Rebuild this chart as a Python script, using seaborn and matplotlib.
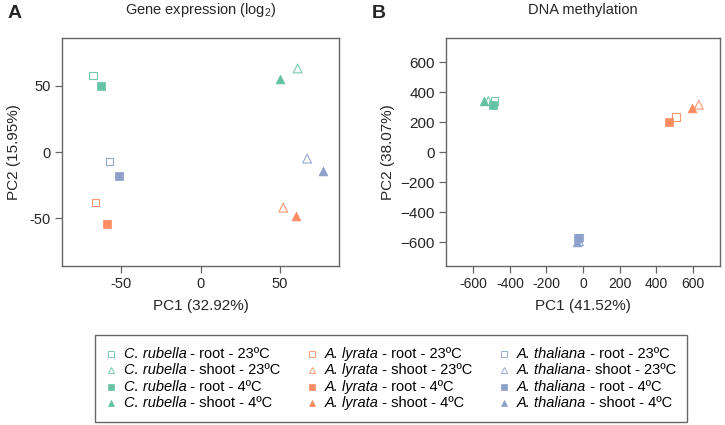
import pandas as pd
import matplotlib.pyplot as plt
import seaborn as sns
from matplotlib.lines import Line2D
from matplotlib.offsetbox import (AnchoredOffsetbox, DrawingArea, HPacker,
                                  TextArea, VPacker)

# ---------------- DATA ----------------
species = ["C. rubella", "A. lyrata", "A. thaliana"]
colors = ["#66C2A5", "#FC8D62", "#8DA0CB"]
conditions = ["root - 23ºC", "shoot - 23ºC", "root - 4ºC", "shoot - 4ºC"]

# gene expression PCA (order per species: root23, shoot23, root4, shoot4)
expr_pc1 = {
    "C. rubella": [-67.5, 61, -62.5, 50],
    "A. lyrata": [-66, 52, -59, 60],
    "A. thaliana": [-57, 67, -51, 77],
}
expr_pc2 = {
    "C. rubella": [57.5, 63, 50, 55],
    "A. lyrata": [-38, -42, -54, -48],
    "A. thaliana": [-7, -5, -18, -14],
}

# DNA methylation PCA
meth_pc1 = {
    "C. rubella": [-485, -518, -495, -540],
    "A. lyrata": [510, 634, 470, 596],
    "A. thaliana": [-20, -22, -28, -35],
}
meth_pc2 = {
    "C. rubella": [340, 340, 315, 337],
    "A. lyrata": [233, 315, 202, 293],
    "A. thaliana": [-570, -595, -575, -600],
}

expr_ticks = [-50, 0, 50]
expr_ticklabels = ["-50", "0", "50"]
meth_ticks = [-600, -400, -200, 0, 200, 400, 600]
meth_xticklabels = ["-600", "-400", "-200", "0", "200", "400", "600"]
meth_yticklabels = ["−600", "−400", "−200", "0", "200", "400", "600"]

rows = []
for sp in species:
    for i, cond in enumerate(conditions):
        rows.append({"species": sp, "cond": cond, "panel": "expr",
                     "pc1": expr_pc1[sp][i], "pc2": expr_pc2[sp][i]})
        rows.append({"species": sp, "cond": cond, "panel": "meth",
                     "pc1": meth_pc1[sp][i], "pc2": meth_pc2[sp][i]})
df = pd.DataFrame(rows)

markers = {"root - 23ºC": "s", "shoot - 23ºC": "^", "root - 4ºC": "s", "shoot - 4ºC": "^"}
is_open = {"root - 23ºC": True, "shoot - 23ºC": True, "root - 4ºC": False, "shoot - 4ºC": False}
sizes = {"s": 28, "^": 40}

sns.set_style("white")
plt.rcParams["font.family"] = ["Liberation Sans", "DejaVu Sans"]
plt.rcParams["mathtext.fontset"] = "custom"
plt.rcParams["mathtext.rm"] = "Liberation Sans"

fig = plt.figure(figsize=(7.25, 4.25), dpi=100)
ax_a = fig.add_axes([62 / 725, 1 - 266 / 425, 277 / 725, 228 / 425])
ax_b = fig.add_axes([446 / 725, 1 - 266 / 425, 274 / 725, 228 / 425])


def draw(ax, panel):
    sub = df[df["panel"] == panel]
    for sp, col in zip(species, colors):
        for cond in conditions:
            d = sub[(sub["species"] == sp) & (sub["cond"] == cond)]
            m = markers[cond]
            if is_open[cond]:
                sns.scatterplot(x=d["pc1"], y=d["pc2"], ax=ax, marker=m, s=sizes[m],
                                color=col, facecolors="none", edgecolor=col,
                                linewidth=0.8, alpha=0.9)
            else:
                sns.scatterplot(x=d["pc1"], y=d["pc2"], ax=ax, marker=m, s=sizes[m],
                                color=col, edgecolor=col, linewidth=0.5)


draw(ax_a, "expr")
draw(ax_b, "meth")

ax_a.set_xlim(-87, 87)
ax_a.set_ylim(-86, 86)
ax_a.set_xticks(expr_ticks)
ax_a.set_xticklabels(expr_ticklabels)
ax_a.set_yticks(expr_ticks)
ax_a.set_yticklabels(expr_ticklabels)
ax_a.set_xlabel("PC1 (32.92%)", fontsize=11, labelpad=6)
ax_a.set_ylabel("PC2 (15.95%)", fontsize=11, labelpad=6)
ax_a.set_title("Gene expression (log$_2$)", fontsize=10.5, pad=17)
ax_a.tick_params(labelsize=10.5)

ax_b.set_xlim(-750, 750)
ax_b.set_ylim(-760, 760)
ax_b.set_xticks(meth_ticks)
ax_b.set_xticklabels(meth_xticklabels)
ax_b.set_yticks(meth_ticks)
ax_b.set_yticklabels(meth_yticklabels)
ax_b.set_xlabel("PC1 (41.52%)", fontsize=11, labelpad=6)
ax_b.set_ylabel("PC2 (38.07%)", fontsize=11, labelpad=4)
ax_b.set_title("DNA methylation", fontsize=10.5, pad=17)
ax_b.tick_params(axis="x", labelsize=10)
ax_b.tick_params(axis="y", labelsize=11)

for ax in (ax_a, ax_b):
    for sp in ax.spines.values():
        sp.set_color("#666666")
        sp.set_linewidth(1.0)
    ax.tick_params(axis="both", which="both", direction="out", length=5,
                   width=0.9, color="#666666", pad=3, bottom=True, left=True)

fig.text(8 / 725, 1 - 14 / 425, "A", fontsize=14, fontweight="bold", va="center")
fig.text(372 / 725, 1 - 14 / 425, "B", fontsize=14, fontweight="bold", va="center")

# ---------------- LEGEND (italic species + plain rest) ----------------
fs = 10.5
columns = []
for sp, col in zip(species, colors):
    entries = []
    for cond in conditions:
        m = markers[cond]
        da = DrawingArea(7, 8, 0, 0)
        if is_open[cond]:
            da.add_artist(Line2D([3.5], [4], ls="none", marker=m, markersize=4.5,
                                 markerfacecolor="none", markeredgecolor=col,
                                 markeredgewidth=0.6))
        else:
            da.add_artist(Line2D([3.5], [4], ls="none", marker=m, markersize=4.5,
                                 markerfacecolor=col, markeredgecolor=col,
                                 markeredgewidth=0.5))
        gap = DrawingArea(5.5, 1, 0, 0)
        sep = "- " if (sp == "A. thaliana" and cond == "shoot - 23ºC") else " - "
        t_sp = TextArea(sp, textprops=dict(fontsize=fs, style="italic", color="black"))
        t_rest = TextArea(sep + cond, textprops=dict(fontsize=fs, color="black"))
        entries.append(HPacker(children=[da, gap, t_sp, t_rest], sep=0,
                               align="center", pad=0))
    columns.append(VPacker(children=entries, sep=1.8, align="left", pad=0))

main = HPacker(children=columns, sep=19, align="top", pad=0)
box = AnchoredOffsetbox(loc="center", child=main, pad=0.8, borderpad=0,
                        frameon=True, prop=dict(size=fs),
                        bbox_to_anchor=(391 / 725, 1 - 378.5 / 425),
                        bbox_transform=fig.transFigure)
box.patch.set_boxstyle("square", pad=0)
box.patch.set_edgecolor("#666666")
box.patch.set_linewidth(1.0)
fig.add_artist(box)

fig.savefig("out.png", dpi=100)
